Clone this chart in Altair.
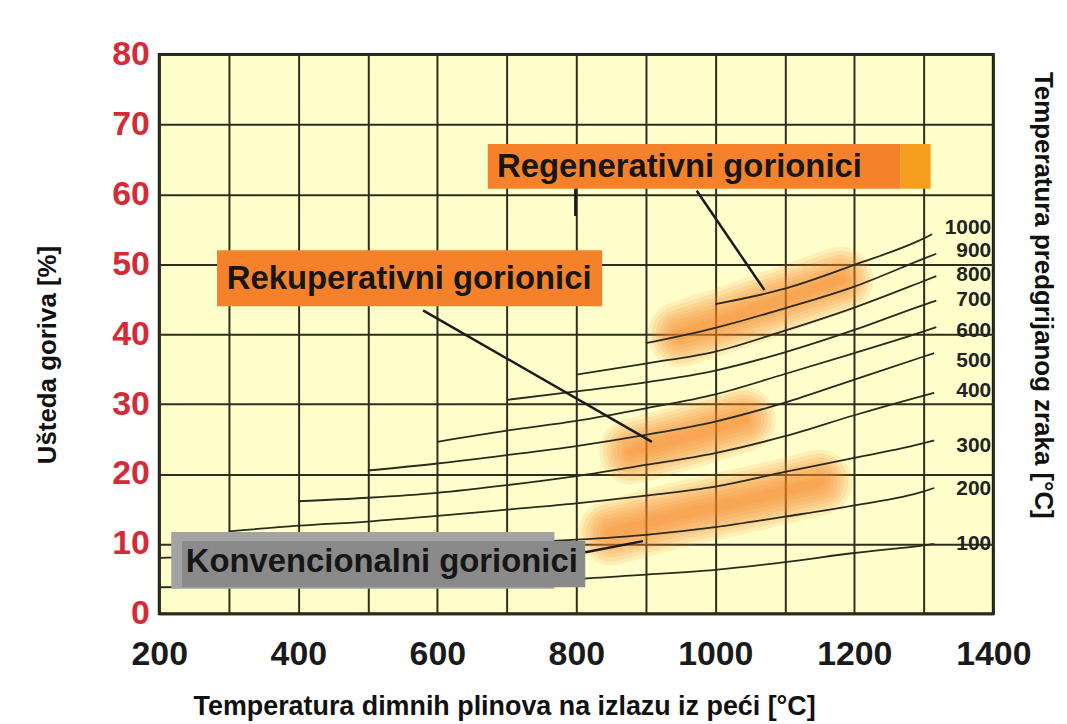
import altair as alt
import pandas as pd

# ---------------- data ----------------
# flue-gas temperature (°C) -> fuel saving (%) for each preheated-air temperature
c100_t = [200, 300, 400, 500, 600, 700, 800, 900, 1000, 1100, 1200, 1300, 1315]
c100_v = [3.8, 3.9, 4.1, 4.3, 4.5, 4.7, 5.0, 5.6, 6.3, 7.4, 8.7, 9.8, 10.0]
c200_t = [200, 300, 400, 500, 600, 700, 800, 900, 1000, 1100, 1200, 1300, 1315]
c200_v = [8.0, 8.3, 8.7, 9.1, 9.6, 10.1, 10.6, 11.3, 12.4, 13.9, 15.5, 17.5, 18.0]
c300_t = [300, 400, 500, 600, 700, 800, 900, 1000, 1100, 1200, 1300, 1315]
c300_v = [11.8, 12.6, 13.2, 14.0, 14.9, 15.8, 16.9, 18.2, 20.3, 22.3, 24.4, 24.8]
c400_t = [400, 500, 600, 700, 800, 900, 1000, 1100, 1200, 1300, 1315]
c400_v = [16.1, 16.6, 17.3, 18.4, 19.7, 21.3, 23.0, 25.4, 28.4, 31.2, 31.6]
c500_t = [500, 600, 700, 800, 900, 1000, 1100, 1200, 1300, 1315]
c500_v = [20.5, 21.5, 22.7, 24.0, 25.6, 27.5, 30.2, 33.5, 36.8, 37.3]
c600_t = [600, 700, 800, 900, 1000, 1100, 1200, 1300, 1318]
c600_v = [24.6, 26.2, 27.6, 29.4, 31.4, 34.3, 37.3, 40.4, 41.0]
c700_t = [700, 800, 900, 1000, 1100, 1200, 1300, 1318]
c700_v = [30.6, 31.8, 33.1, 34.8, 37.4, 40.6, 44.2, 44.8]
c800_t = [800, 900, 1000, 1100, 1200, 1300, 1318]
c800_v = [34.2, 35.8, 37.5, 40.5, 43.8, 47.6, 48.3]
c900_t = [900, 1000, 1100, 1200, 1300, 1318]
c900_v = [38.7, 40.9, 43.7, 46.8, 50.8, 51.5]
c1000_t = [1000, 1100, 1200, 1300, 1312]
c1000_v = [44.3, 46.5, 49.9, 53.7, 54.3]

curve_names = ["100", "200", "300", "400", "500", "600", "700", "800", "900", "1000"]
curve_ts = [c100_t, c200_t, c300_t, c400_t, c500_t, c600_t, c700_t, c800_t, c900_t, c1000_t]
curve_vs = [c100_v, c200_v, c300_v, c400_v, c500_v, c600_v, c700_v, c800_v, c900_v, c1000_v]

# curve end labels
label_text = ["1000", "900", "800", "700", "600", "500", "400", "300", "200", "100"]
label_y = [55.2, 51.9, 48.4, 44.9, 40.5, 36.2, 31.8, 24.0, 17.8, 10.0]
label_x = [1397] * 10

# orange highlight bands (centre lines)
blob_names = ["reg"] * 4 + ["rek"] * 3 + ["konv"] * 4
blob_t = [950, 1030, 1110, 1180, 880, 960, 1040, 850, 950, 1050, 1150]
blob_v = [40.0, 42.6, 45.4, 47.8, 23.2, 25.4, 27.8, 11.6, 14.2, 16.4, 18.8]

# annotation boxes
reg_box = dict(x=672.6, x2=1266.8, y=60.8, y2=67.2)
reg_box2 = dict(x=1266.8, x2=1309.8, y=60.8, y2=67.2)
rek_box = dict(x=283.1, x2=837.2, y=44.0, y2=52.0)
konv_box_back = dict(x=217.2, x2=768.5, y=3.6, y2=11.7)
konv_box = dict(x=232.9, x2=812.9, y=3.8, y2=10.4)

box_labels = ["Regenerativni gorionici", "Rekuperativni gorionici", "Konvencionalni gorionici"]
box_label_x = [686.0, 297.0, 238.0]
box_label_y = [63.9, 47.9, 7.4]

# pointer lines
ptr_x = [973.3, 579.5, 812.9, 798.6]
ptr_y = [60.5, 43.4, 8.8, 60.8]
ptr_x2 = [1070.7, 908.8, 896.0, 798.6]
ptr_y2 = [46.3, 24.6, 10.4, 56.9]

x_ticks = list(range(200, 1401, 100))
y_ticks = list(range(0, 81, 10))

# ---------------- tables ----------------
rows = []
for n, ts, vs in zip(curve_names, curve_ts, curve_vs):
    for t, v in zip(ts, vs):
        rows.append({"curve": n, "t": t, "v": v})
curves_df = pd.DataFrame(rows)
labels_df = pd.DataFrame({"txt": label_text, "t": label_x, "v": label_y})
blob_df = pd.DataFrame({"blob": blob_names, "t": blob_t, "v": blob_v})
box_text_df = pd.DataFrame({"txt": box_labels, "t": box_label_x, "v": box_label_y})
ptr_df = pd.DataFrame({"t": ptr_x, "v": ptr_y, "t2": ptr_x2, "v2": ptr_y2})

xs = alt.Scale(domain=[200, 1400], nice=False, zero=False)
ys = alt.Scale(domain=[0, 80], nice=False)

GRID = "#2e2e1e"
x_axis = alt.Axis(values=x_ticks, grid=True, gridColor=GRID, gridWidth=2, gridOpacity=1,
                  ticks=False, domain=False, title=None, format="d",
                  labelExpr="datum.value % 200 === 0 ? datum.label : ''",
                  labelFont="Liberation Sans", labelFontSize=34, labelFontWeight="bold",
                  labelColor="#1a1a1a", labelPadding=24, labelFlush=False, labelOverlap=False)
y_axis = alt.Axis(values=y_ticks, grid=True, gridColor=GRID, gridWidth=2, gridOpacity=1,
                  ticks=False, domain=False, title=None, format="d",
                  labelFont="Liberation Sans", labelFontSize=34, labelFontWeight="bold",
                  labelColor="#d62b36", labelPadding=10, labelFlush=False, labelOverlap=False)


def X(f="t"):
    return alt.X(f"{f}:Q", scale=xs, axis=x_axis)


def Y(f="v"):
    return alt.Y(f"{f}:Q", scale=ys, axis=y_axis)


ORANGE = "#f5822a"
blob_layers = []
for w in [66, 58, 50, 43, 36, 29, 22, 15, 9]:
    blob_layers.append(
        alt.Chart(blob_df).mark_line(color="#f5822a", strokeWidth=w, opacity=0.13,
                                     strokeCap="round", strokeJoin="round", interpolate="monotone")
        .encode(x=X(), y=Y(), detail="blob:N", order="t:Q")
    )

curves = alt.Chart(curves_df).mark_line(color="#2b2b1c", strokeWidth=1.8, interpolate="monotone").encode(
    x=X(), y=Y(), detail="curve:N", order="t:Q"
)


def box(d, color):
    df = pd.DataFrame([d])
    return alt.Chart(df).mark_rect(color=color).encode(
        x=X("x"), x2="x2:Q", y=Y("y"), y2="y2:Q"
    )


boxes = [
    box(reg_box, ORANGE),
    box(reg_box2, "#f79e1e"),
    box(rek_box, ORANGE),
    box(konv_box_back, "#a3a3a3"),
    box(konv_box, "#8a8a8a"),
]

pointers = alt.Chart(ptr_df).mark_rule(color="#1a1a1a", strokeWidth=2.5).encode(
    x=X(), y=Y(), x2="t2:Q", y2="v2:Q"
)

box_texts = alt.Chart(box_text_df).mark_text(
    align="left", baseline="middle", font="Liberation Sans", fontSize=33, fontWeight="bold", color="#161616"
).encode(x=X(), y=Y(), text="txt:N")

curve_labels = alt.Chart(labels_df).mark_text(
    align="right", baseline="middle", font="Liberation Sans", fontSize=21, fontWeight="bold",
    color="#222222"
).encode(x=X(), y=Y(), text="txt:N")

title_df = pd.DataFrame({"txt": ["Temperatura dimnih plinova na izlazu iz peći [°C]"]})
x_title = alt.Chart(title_df).mark_text(
    font="Liberation Sans", fontSize=27, fontWeight="bold", color="#111111",
    align="center", baseline="middle"
).encode(x=alt.value(347), y=alt.value(656), text="txt:N")

yl_df = pd.DataFrame({"txt": ["Ušteda goriva [%]"]})
y_title = alt.Chart(yl_df).mark_text(
    font="Liberation Sans", fontSize=26, fontWeight="bold", color="#111111",
    align="center", baseline="middle", angle=270
).encode(x=alt.value(-112), y=alt.value(302), text="txt:N")

yr_df = pd.DataFrame({"txt": ["Temperatura predgrijanog zraka [°C]"]})
y2_title = alt.Chart(yr_df).mark_text(
    font="Liberation Sans", fontSize=26, fontWeight="bold", color="#111111",
    align="center", baseline="middle", angle=90
).encode(x=alt.value(888), y=alt.value(242), text="txt:N")

chart = alt.layer(
    *blob_layers, curves, *boxes, pointers, box_texts, curve_labels, x_title, y_title, y2_title
).properties(
    width=838, height=562,
    autosize=alt.AutoSizeParams(type="none"),
    padding={"left": 152, "top": 45, "right": 66, "bottom": 108},
    background="white",
).configure_view(
    fill="#ffffcc", stroke="#1e1e14", strokeWidth=3
)

chart.save("out.html", embed_options={"renderer": "svg", "actions": False})
